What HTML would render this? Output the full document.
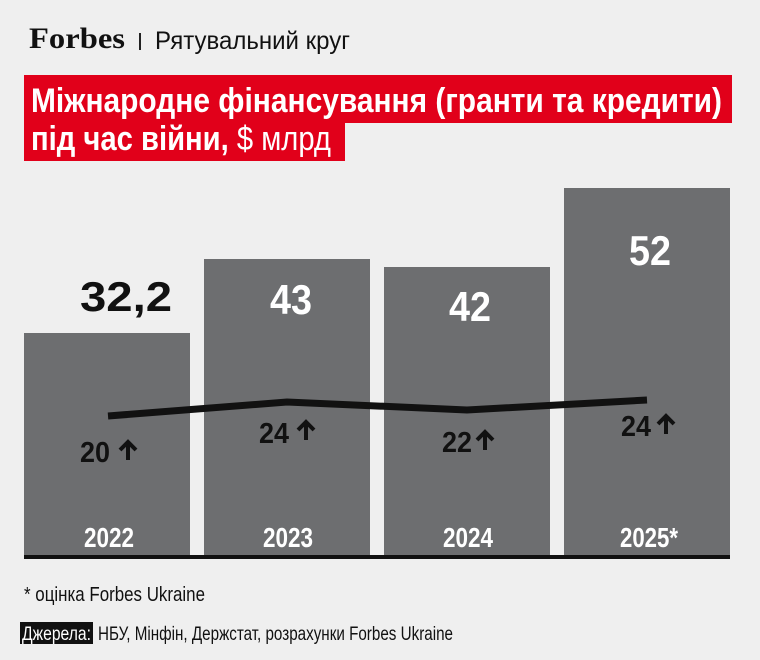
<!DOCTYPE html>
<html><head><meta charset="utf-8"><style>
html,body{margin:0;padding:0;background:#efefef;}
svg{display:block;font-family:"Liberation Sans","DejaVu Sans",sans-serif;}
</style></head><body>
<svg width="760" height="660" viewBox="0 0 760 660" xmlns="http://www.w3.org/2000/svg">
<rect width="760" height="660" fill="#efefef"/>
<text x="29" y="48" font-family="Liberation Serif,serif" font-weight="bold" font-size="30" textLength="96" lengthAdjust="spacingAndGlyphs" fill="#111">Forbes</text>
<rect x="139" y="33" width="2" height="17" fill="#222"/>
<text x="155" y="49" font-size="25" textLength="195" lengthAdjust="spacingAndGlyphs" fill="#111">Рятувальний круг</text>
<rect x="24" y="75" width="708" height="48" fill="#e1001a"/>
<rect x="24" y="122" width="321" height="39" fill="#e1001a"/>
<text x="31" y="112" font-size="34" font-weight="bold" textLength="691" lengthAdjust="spacingAndGlyphs" fill="#fff">Міжнародне фінансування (гранти та кредити)</text>
<text x="31" y="150" font-size="34" textLength="300" lengthAdjust="spacingAndGlyphs" fill="#fff"><tspan font-weight="bold">під час війни, </tspan>$ млрд</text>
<g fill="#6d6e70">
<rect x="24" y="333" width="166" height="224"/>
<rect x="204" y="259" width="166" height="298"/>
<rect x="384" y="267" width="166" height="290"/>
<rect x="564" y="188" width="166" height="369"/>
</g>
<rect x="24" y="555" width="706" height="4" fill="#111"/>
<polyline points="108,416 287,402 467,410 647,400" fill="none" stroke="#111" stroke-width="7"/>
<g font-weight="bold" font-size="42">
<text x="80" y="311" textLength="92" lengthAdjust="spacingAndGlyphs" fill="#111">32,2</text>
<text x="270" y="314" textLength="42" lengthAdjust="spacingAndGlyphs" fill="#fff">43</text>
<text x="449" y="321" textLength="42" lengthAdjust="spacingAndGlyphs" fill="#fff">42</text>
<text x="629" y="265" textLength="42" lengthAdjust="spacingAndGlyphs" fill="#fff">52</text>
</g>
<g font-weight="bold" font-size="29" fill="#111">
<text x="80" y="462" textLength="30" lengthAdjust="spacingAndGlyphs">20</text>
<text x="259" y="443" textLength="30" lengthAdjust="spacingAndGlyphs">24</text>
<text x="442" y="452" textLength="30" lengthAdjust="spacingAndGlyphs">22</text>
<text x="621" y="436" textLength="30" lengthAdjust="spacingAndGlyphs">24</text>
</g>
<g stroke="#111" stroke-width="4" fill="none">
<path d="M128 460V442M120 450L128 442L136 450"/>
<path d="M306 440V422M298 430L306 422L314 430"/>
<path d="M485 450V432M477 440L485 432L493 440"/>
<path d="M666 434V416M658 424L666 416L674 424"/>
</g>
<g font-weight="bold" font-size="28" fill="#fff">
<text x="84" y="547" textLength="50" lengthAdjust="spacingAndGlyphs">2022</text>
<text x="263" y="547" textLength="50" lengthAdjust="spacingAndGlyphs">2023</text>
<text x="443" y="547" textLength="50" lengthAdjust="spacingAndGlyphs">2024</text>
<text x="620" y="547" textLength="58" lengthAdjust="spacingAndGlyphs">2025*</text>
</g>
<text x="24" y="601" font-size="20" textLength="181" lengthAdjust="spacingAndGlyphs" fill="#111">* оцінка Forbes Ukraine</text>
<rect x="20" y="622" width="73" height="22" fill="#111"/>
<text x="22" y="640" font-size="19" textLength="69" lengthAdjust="spacingAndGlyphs" fill="#fff">Джерела:</text>
<text x="98" y="640" font-size="19" textLength="355" lengthAdjust="spacingAndGlyphs" fill="#111">НБУ, Мінфін, Держстат, розрахунки Forbes Ukraine</text>
</svg>
</body></html>
